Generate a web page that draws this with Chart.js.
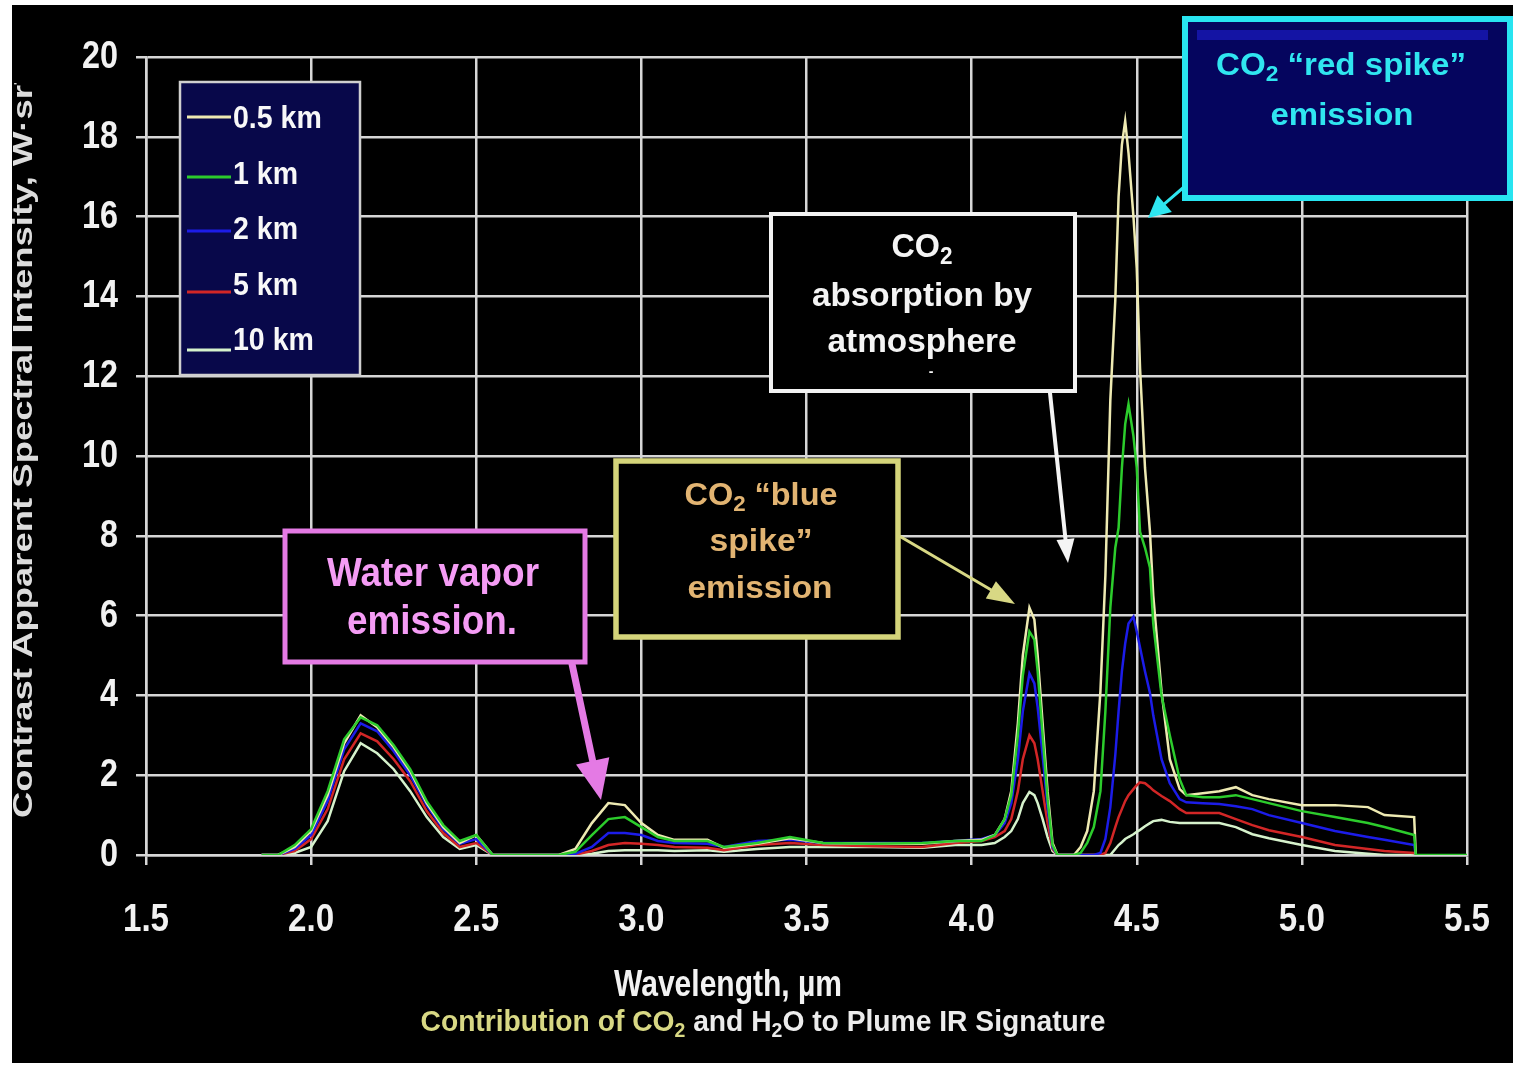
<!DOCTYPE html>
<html>
<head>
<meta charset="utf-8">
<title>Contribution of CO2 and H2O to Plume IR Signature</title>
<script src="https://cdn.jsdelivr.net/npm/chart.js@4.4.1/dist/chart.umd.min.js"></script>
<style>
  html, body { margin: 0; padding: 0; background: #fff; overflow: hidden; }
  canvas { display: block; }
</style>
</head>
<body>
<canvas id="plumeChart" width="1513" height="1066"></canvas>
<script>
// wavelength in µm, grouped by band: H2O 2.2, H2O 2.9 + continuum, CO2 blue spike, CO2 red spike, tail
const wavelengths = [
  1.85, 1.9, 1.95, 2.0, 2.05, 2.1, 2.15, 2.2, 2.25, 2.3, 2.35, 2.4, 2.45, 2.5, 2.55,
  2.75, 2.8, 2.85, 2.9, 2.95, 3.0, 3.05, 3.1, 3.2, 3.25, 3.35, 3.45, 3.55, 3.7, 3.85, 3.95, 4.03,
  4.07, 4.1, 4.12, 4.14, 4.155, 4.175, 4.19, 4.2, 4.215, 4.23, 4.245, 4.26, 4.31,
  4.33, 4.35, 4.37, 4.39, 4.405, 4.42, 4.435, 4.445, 4.455, 4.465, 4.475, 4.49, 4.5, 4.51, 4.525, 4.54, 4.55, 4.575, 4.6, 4.63, 4.65,
  4.7, 4.75, 4.8, 4.85, 4.9, 5.0, 5.1, 5.2, 5.25, 5.34, 5.345, 5.5
];

const intensity05km = [
  0, 0, 0.2, 0.6, 1.5, 2.8, 3.5, 3.2, 2.7, 2.1, 1.3, 0.7, 0.3, 0.5, 0,
  0, 0.15, 0.8, 1.3, 1.25, 0.8, 0.5, 0.38, 0.38, 0.18, 0.28, 0.42, 0.3, 0.28, 0.28, 0.35, 0.38,
  0.5, 0.9, 1.6, 3.3, 5.0, 6.2, 5.9, 5.0, 3.3, 1.6, 0.3, 0, 0,
  0.2, 0.6, 1.6, 4.1, 7.0, 11.4, 13.9, 16.5, 17.8, 18.4, 17.6, 16.0, 14.7, 12.2, 9.7, 8.1, 6.5, 4.1, 2.4, 1.65, 1.5,
  1.55, 1.6, 1.7, 1.5, 1.4, 1.25, 1.25, 1.2, 1.0, 0.95, 0, null
];

const intensity1km = [
  0, 0, 0.25, 0.65, 1.6, 2.9, 3.45, 3.25, 2.75, 2.15, 1.35, 0.75, 0.35, 0.5, 0,
  0, 0.08, 0.5, 0.9, 0.95, 0.7, 0.45, 0.35, 0.35, 0.2, 0.3, 0.45, 0.3, 0.28, 0.3, 0.35, 0.35,
  0.5, 0.9, 1.5, 3.0, 4.5, 5.6, 5.4, 4.6, 3.0, 1.4, 0.25, 0, 0,
  0.05, 0.3, 0.7, 1.6, 3.6, 6.2, 7.7, 8.2, 9.7, 10.8, 11.3, 10.5, 9.7, 8.1, 7.7, 7.2, 5.8, 4.0, 3.0, 1.9, 1.5,
  1.45, 1.45, 1.5, 1.4, 1.3, 1.1, 0.95, 0.8, 0.7, 0.5, 0, 0
];

const intensity2km = [
  0, 0, 0.15, 0.5, 1.35, 2.65, 3.3, 3.1, 2.6, 2.0, 1.25, 0.65, 0.28, 0.4, 0,
  0, 0.03, 0.2, 0.55, 0.55, 0.5, 0.35, 0.3, 0.28, 0.2, 0.35, 0.38, 0.3, 0.3, 0.3, 0.35, 0.4,
  0.5, 0.8, 1.3, 2.4, 3.6, 4.55, 4.3, 3.7, 2.5, 1.2, 0.2, 0, 0,
  0, 0, 0, 0.05, 0.4, 1.2, 2.5, 3.6, 4.6, 5.3, 5.8, 5.97, 5.6, 5.2, 4.6, 4.06, 3.5, 2.4, 1.8, 1.4, 1.32,
  1.3, 1.28, 1.22, 1.15, 1.0, 0.8, 0.6, 0.45, 0.38, 0.25, 0, null
];

const intensity5km = [
  0, 0, 0.1, 0.4, 1.15, 2.4, 3.05, 2.85, 2.4, 1.85, 1.1, 0.55, 0.2, 0.3, 0,
  0, 0.01, 0.1, 0.25, 0.3, 0.28, 0.25, 0.2, 0.18, 0.12, 0.25, 0.3, 0.25, 0.22, 0.2, 0.3, 0.35,
  0.45, 0.6, 0.9, 1.6, 2.4, 3.0, 2.8, 2.4, 1.6, 0.8, 0.15, 0, 0,
  0, 0, 0, 0, 0.05, 0.3, 0.7, 0.95, 1.15, 1.35, 1.5, 1.65, 1.75, 1.82, 1.8, 1.7, 1.62, 1.48, 1.35, 1.15, 1.05,
  1.05, 1.05, 0.9, 0.75, 0.62, 0.45, 0.25, 0.15, 0.1, 0.05, 0, null
];

const intensity10km = [
  0, 0, 0.05, 0.2, 0.85, 2.1, 2.8, 2.55, 2.15, 1.6, 0.95, 0.45, 0.15, 0.25, 0,
  0, 0, 0.03, 0.1, 0.12, 0.12, 0.12, 0.1, 0.12, 0.08, 0.15, 0.2, 0.2, 0.2, 0.18, 0.25, 0.25,
  0.3, 0.45, 0.6, 0.9, 1.3, 1.58, 1.5, 1.3, 0.9, 0.45, 0.1, 0, 0,
  0, 0, 0, 0, 0, 0, 0.15, 0.25, 0.32, 0.4, 0.45, 0.52, 0.58, 0.63, 0.72, 0.8, 0.85, 0.88, 0.83, 0.8, 0.8,
  0.8, 0.8, 0.7, 0.52, 0.42, 0.25, 0.1, 0.03, 0, 0, 0, null
];

const seriesLabels = ["0.5 km", "1 km", "2 km", "5 km", "10 km"];
const seriesValues = [intensity05km, intensity1km, intensity2km, intensity5km, intensity10km];
const seriesColors = ["#eeeab2", "#2ccc2c", "#1c1ce8", "#d22626", "#d6f2cc"];
const seriesOrder = [1, 0, 2, 3, 4];

const xMin = 1.5, xMax = 5.5, xStep = 0.5;
const yMin = 0, yMax = 20, yStep = 2;

const FONT = '"Liberation Sans", Arial, sans-serif';
const gridColor = "#d6d6d6";
const tickColor = "#f2f2f2";

function drawText(ctx, runs, x, y, size, o) {
  if (typeof runs === "string") runs = [[runs]];
  const big = `bold ${size}px ${FONT}`;
  const small = `bold ${Math.round(size * 0.7)}px ${FONT}`;
  const widths = runs.map(r => { ctx.font = r[1] ? small : big; return ctx.measureText(r[0]).width; });
  const total = widths.reduce((a, b) => a + b, 0);
  const sx = o.w ? o.w / total : (o.sx || 1);
  let left = x - total * sx / 2;
  if (o.align === "left") left = x;
  if (o.align === "right") left = x - total * sx;
  ctx.save();
  ctx.translate(left, y);
  ctx.scale(sx, 1);
  ctx.textAlign = "left";
  ctx.textBaseline = "alphabetic";
  let cx = 0;
  runs.forEach((r, i) => {
    ctx.font = r[1] ? small : big;
    ctx.fillStyle = r[2] || o.color;
    ctx.fillText(r[0], cx, r[1] ? size * 0.2 : 0);
    cx += widths[i];
  });
  ctx.restore();
}

function drawArrow(ctx, x1, y1, x2, y2, color, lw, headLen, headHalf) {
  const a = Math.atan2(y2 - y1, x2 - x1);
  const bx = x2 - headLen * Math.cos(a);
  const by = y2 - headLen * Math.sin(a);
  ctx.strokeStyle = color;
  ctx.lineWidth = lw;
  ctx.lineCap = "round";
  ctx.beginPath();
  ctx.moveTo(x1, y1);
  ctx.lineTo(bx, by);
  ctx.stroke();
  ctx.fillStyle = color;
  ctx.beginPath();
  ctx.moveTo(x2, y2);
  ctx.lineTo(bx + headHalf * Math.sin(a), by - headHalf * Math.cos(a));
  ctx.lineTo(bx - headHalf * Math.sin(a), by + headHalf * Math.cos(a));
  ctx.closePath();
  ctx.fill();
}

function drawBox(ctx, x, y, w, h, fill, stroke, lw) {
  ctx.fillStyle = fill;
  ctx.fillRect(x, y, w, h);
  ctx.strokeStyle = stroke;
  ctx.lineWidth = lw;
  ctx.strokeRect(x, y, w, h);
}

const backdrop = {
  id: "backdrop",
  beforeDraw(chart) {
    const ctx = chart.ctx;
    ctx.save();
    ctx.fillStyle = "#fff";
    ctx.fillRect(0, 0, chart.width, chart.height);
    ctx.fillStyle = "#000";
    ctx.fillRect(12, 5, chart.width - 12, chart.height - 8);
    ctx.restore();
  }
};

// condensed tick labels, placed from the scales' own ticks
const tickLabels = {
  id: "tickLabels",
  afterDraw(chart) {
    const ctx = chart.ctx;
    const { x, y } = chart.scales;
    y.ticks.forEach(t => {
      drawText(ctx, String(t.value), 118, y.getPixelForValue(t.value) + 11, 39, { sx: 0.83, align: "right", color: tickColor });
    });
    x.ticks.forEach(t => {
      drawText(ctx, t.value.toFixed(1), x.getPixelForValue(t.value), 931, 39, { sx: 0.85, color: tickColor });
    });
  }
};

const overlays = {
  id: "overlays",
  afterDraw(chart) {
    const ctx = chart.ctx;
    ctx.save();

    // y axis title, cut off at the top like the slide
    ctx.save();
    ctx.beginPath();
    ctx.rect(0, 83, 120, 800);
    ctx.clip();
    ctx.translate(32, 818);
    ctx.rotate(-Math.PI / 2);
    ctx.font = `bold 28px ${FONT}`;
    const shown = "Contrast Apparent Spectral Intensity, W·sr";
    ctx.scale(733 / ctx.measureText(shown).width, 1);
    ctx.fillStyle = "#dcdcdc";
    ctx.textBaseline = "alphabetic";
    ctx.fillText(shown + "⁻¹·µm⁻¹", 0, 0);
    ctx.restore();

    // legend
    drawBox(ctx, 180, 82, 180, 293, "#08084a", "#cfcfcf", 2.5);
    const lineY = [117, 177, 231, 292, 350];
    chart.data.datasets.forEach((ds, i) => {
      ctx.strokeStyle = ds.borderColor;
      ctx.lineWidth = 3;
      ctx.beginPath();
      ctx.moveTo(187, lineY[i]);
      ctx.lineTo(231, lineY[i]);
      ctx.stroke();
      drawText(ctx, ds.label, 233, 128 + i * 55.5, 31, { sx: 0.92, align: "left", color: "#f8f8f8" });
    });

    // water vapour
    drawBox(ctx, 285, 531, 300, 131, "#000", "#e47ae4", 5);
    drawText(ctx, "Water vapor", 433, 586, 40, { w: 212, color: "#f59cf5" });
    drawText(ctx, "emission.", 432, 634, 40, { w: 170, color: "#f59cf5" });
    drawArrow(ctx, 572, 664, 601, 800, "#e47ae4", 7, 40, 17);

    // blue spike
    drawBox(ctx, 616, 461, 282, 176, "#000", "#d4d47a", 5.5);
    drawText(ctx, [["CO"], ["2", 1], [" “blue"]], 761, 505, 32, { w: 153, color: "#e2b472" });
    drawText(ctx, "spike”", 761, 551, 32, { w: 103, color: "#e2b472" });
    drawText(ctx, "emission", 760, 598, 32, { w: 145, color: "#e2b472" });
    drawArrow(ctx, 901, 537, 1015, 604, "#d8d884", 3, 28, 10);

    // absorption
    drawBox(ctx, 771, 214, 304, 177, "#000", "#f2f2f2", 4);
    drawText(ctx, [["CO"], ["2", 1]], 922, 257, 33, { w: 61, color: "#f4f4f4" });
    drawText(ctx, "absorption by", 922, 306, 33, { w: 220, color: "#f4f4f4" });
    drawText(ctx, "atmosphere", 922, 352, 33, { w: 189, color: "#f4f4f4" });
    drawText(ctx, "-", 931, 376, 14, { color: "#f4f4f4" });
    drawArrow(ctx, 1050, 393, 1068, 563, "#f4f4f4", 4, 24, 9);

    // red spike
    drawBox(ctx, 1185, 19, 325, 179, "#05055e", "#28e4f0", 6);
    ctx.fillStyle = "#1414a4";
    ctx.fillRect(1197, 30, 291, 10);
    drawText(ctx, [["CO"], ["2", 1], [" “red spike”"]], 1341, 75, 32, { w: 250, color: "#30e6f0" });
    drawText(ctx, "emission", 1342, 125, 32, { w: 143, color: "#30e6f0" });
    drawArrow(ctx, 1184, 187, 1148, 218, "#2ee6f0", 3, 22, 11);

    // axis title and caption
    drawText(ctx, "Wavelength, µm", 728, 996, 37, { w: 228, color: "#f2f2f2" });
    const yellow = "#d8d884", white = "#ececec";
    drawText(ctx, [
      ["Contribution of CO", 0, yellow], ["2", 1, yellow],
      [" and H", 0, white], ["2", 1, white], ["O to Plume IR Signature", 0, white]
    ], 763, 1031, 29, { w: 685, color: white });

    ctx.restore();
  }
};

const datasets = seriesLabels.map((label, i) => ({
  label,
  data: wavelengths.map((w, j) => ({ x: w, y: seriesValues[i][j] })),
  borderColor: seriesColors[i],
  borderWidth: 2.5,
  pointRadius: 0,
  tension: 0,
  spanGaps: false,
  order: seriesOrder[i]
}));

new Chart(document.getElementById("plumeChart"), {
  type: "line",
  data: { datasets },
  plugins: [backdrop, tickLabels, overlays],
  options: {
    responsive: false,
    animation: false,
    devicePixelRatio: 1,
    layout: { padding: { top: 57, right: 46, left: 0, bottom: 0 } },
    plugins: {
      legend: { display: false },
      tooltip: { enabled: false }
    },
    scales: {
      x: {
        type: "linear",
        min: xMin,
        max: xMax,
        afterFit: s => { s.height = 211; },
        ticks: { stepSize: xStep, autoSkip: false, display: false },
        grid: { color: gridColor, lineWidth: 2.5, tickLength: 10 },
        border: { color: gridColor, width: 2.5 }
      },
      y: {
        min: yMin,
        max: yMax,
        afterFit: s => { s.width = 146; },
        ticks: { stepSize: yStep, display: false },
        grid: { color: gridColor, lineWidth: 2.5, tickLength: 10 },
        border: { color: gridColor, width: 2.5 }
      }
    }
  }
});
</script>
</body>
</html>
